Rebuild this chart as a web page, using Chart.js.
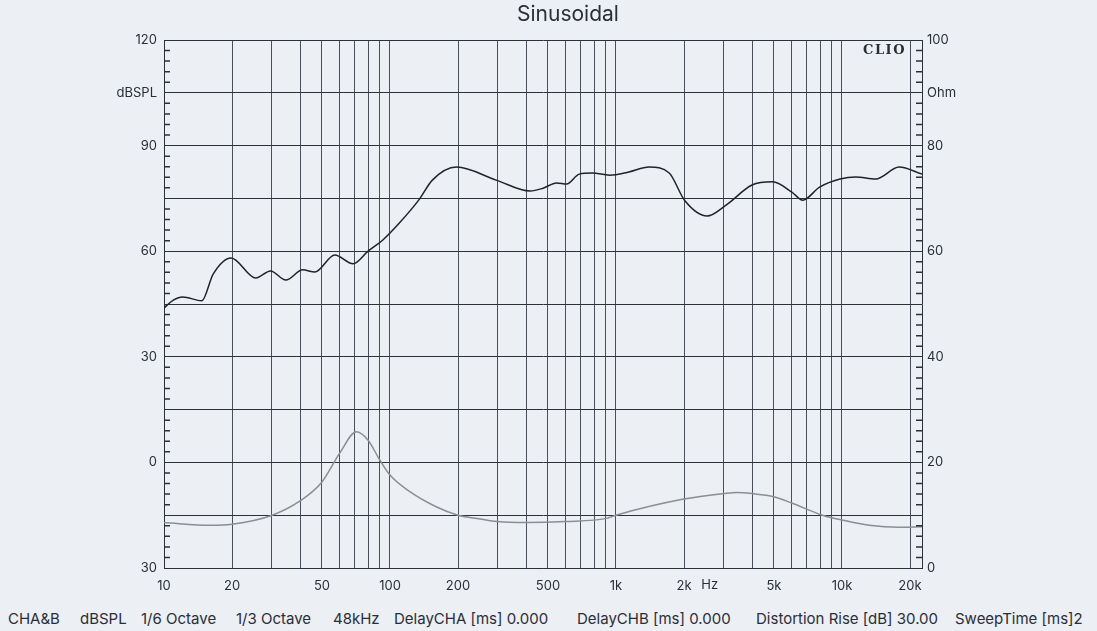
<!DOCTYPE html>
<html>
<head>
<meta charset="utf-8">
<script src="https://cdn.jsdelivr.net/npm/chart.js@4/dist/chart.umd.min.js"></script>
<style>
body { margin:0; background:#eceff4; font-family: Inter, sans-serif; }
#wrap { position:relative; width:1097px; height:631px; overflow:hidden; }
#footer span { position:absolute; top:609px; font-size:15px; color:#2a2e38; white-space:nowrap; }
</style>
</head>
<body>
<div id="wrap">
<canvas id="myChart" width="1097" height="592"></canvas>
<div id="footer"></div>
</div>
<script>
// SPL curve (dB, left axis)
const splFreq = [10, 11, 12.1, 14.7, 16.5, 19.8, 25.5, 29.6, 34.6, 41.1, 46.5, 57, 68.6, 80, 93, 110, 135, 154, 197, 295, 417, 476, 546, 605, 688, 785, 937, 1140, 1400, 1720, 2010, 2530, 3070, 4000, 4930, 6000, 6700, 7960, 9800, 11500, 14100, 17900, 22600]
const splDb = [43.9, 46.1, 47, 45.9, 53.5, 58.1, 52.4, 54.4, 51.8, 54.7, 54.1, 58.9, 56.4, 60, 63.2, 68, 74.8, 80.2, 83.9, 80.2, 77.1, 77.9, 79.4, 79.1, 81.9, 82.2, 81.6, 82.5, 83.9, 82.2, 74.5, 70, 73.1, 78.8, 79.7, 76.8, 74.5, 78.2, 80.5, 81.1, 80.5, 83.9, 81.9]

// impedance curve (Ohm, right axis)
const impFreq = [10, 16, 20, 29.7, 40, 50, 60, 71, 80, 90, 100, 122, 160, 200, 250, 298, 400, 600, 907, 1000, 1970, 3020, 3430, 4000, 5000, 6000, 8200, 10000, 13200, 17800, 22600]
const impOhm = [8.6, 8.1, 8.3, 9.9, 12.7, 16.3, 21.8, 25.8, 24.2, 20.5, 17.6, 14.5, 11.6, 10.0, 9.3, 8.8, 8.6, 8.8, 9.4, 10.0, 13.0, 14.1, 14.3, 14.1, 13.5, 12.3, 10.0, 9.1, 8.1, 7.7, 7.8]

// axes
const xTicks = [10, 20, 30, 40, 50, 60, 70, 80, 90, 100, 200, 300, 400, 500, 600, 700, 800, 900, 1000, 2000, 3000, 4000, 5000, 6000, 7000, 8000, 9000, 10000, 20000]
const xLabels = ['10', '20', '', '', '50', '', '', '', '', '100', '200', '', '', '500', '', '', '', '', '1k', '2k', '', '', '5k', '', '', '', '', '10k', '20k']
const leftTicks = [-30, -15, 0, 15, 30, 45, 60, 75, 90, 105, 120]
const leftLabels = ['30', '', '0', '', '30', '', '60', '', '90', 'dBSPL', '120']
const rightTicks = [0, 10, 20, 30, 40, 50, 60, 70, 80, 90, 100]
const rightLabels = ['0', '', '20', '', '40', '', '60', '', '80', 'Ohm', '100']

const footerLabels = ['CHA&B', 'dBSPL', '1/6 Octave', '1/3 Octave', '48kHz', 'DelayCHA [ms] 0.000', 'DelayCHB [ms] 0.000', 'Distortion Rise [dB] 30.00', 'SweepTime [ms]2']
const footerX = [8, 80, 141, 236, 333, 394, 577, 756, 955]

const ink = '#2a2e38'
const lineDark = '#2c3139'

const footer = document.getElementById('footer')
footerLabels.forEach((t, i) => {
    const s = document.createElement('span')
    s.textContent = t
    s.style.left = footerX[i] + 'px'
    footer.appendChild(s)
})

const extras = {
    id: 'extras',
    afterDraw(chart) {
        const {ctx, chartArea, scales} = chart
        ctx.save()
        // small inner ticks
        ctx.strokeStyle = lineDark
        ctx.lineWidth = 1.5
        ctx.beginPath()
        for (let v = -30; v <= 120; v += 3) {
            if (v % 15 === 0) continue
            const y = scales.y.getPixelForValue(v)
            ctx.moveTo(chartArea.left, y)
            ctx.lineTo(chartArea.left + 6, y)
        }
        for (let v = 0; v <= 100; v += 2) {
            if (v % 10 === 0) continue
            const y = scales.y2.getPixelForValue(v)
            ctx.moveTo(chartArea.right - 6, y)
            ctx.lineTo(chartArea.right, y)
        }
        ctx.stroke()

        ctx.fillStyle = ink
        ctx.textBaseline = 'middle'
        ctx.textAlign = 'center'
        ctx.font = '13px Inter'
        ctx.fillText('Hz', scales.x.getPixelForValue(2600), chartArea.bottom + 17)

        ctx.font = '21px Inter'
        ctx.fillText('Sinusoidal', 568, 15)

        ctx.textAlign = 'right'
        ctx.font = 'bold 13px "DejaVu Serif"'
        ctx.letterSpacing = '1.5px'
        ctx.fillText('CLIO', chartArea.right - 16, chartArea.top + 11)
        ctx.restore()
    }
}

function drawChart() {
    const ctx = document.getElementById('myChart')

    const data = {
        datasets: [
            {
                label: 'SPL',
                data: splFreq.map((f, i) => ({x: f, y: splDb[i]})),
                borderColor: '#1f232b',
                borderWidth: 1.5,
                pointRadius: 0,
                cubicInterpolationMode: 'monotone',
                yAxisID: 'y'
            },
            {
                label: 'Impedance',
                data: impFreq.map((f, i) => ({x: f, y: impOhm[i]})),
                borderColor: '#8b8e93',
                borderWidth: 1.5,
                pointRadius: 0,
                cubicInterpolationMode: 'monotone',
                yAxisID: 'y2'
            }
        ]
    }

    const config = {
        type: 'line',
        data: data,
        options: {
            responsive: false,
            animation: false,
            layout: {padding: {top: 40, left: 0, right: 0, bottom: 0}},
            plugins: {legend: {display: false}, tooltip: {enabled: false}, title: {display: false}},
            scales: {
                x: {
                    type: 'logarithmic',
                    min: 10,
                    max: 22600,
                    afterBuildTicks: s => { s.ticks = xTicks.map(v => ({value: v})) },
                    afterFit: s => { s.height = 24 },
                    grid: {color: '#4a5059', lineWidth: 1, drawTicks: false},
                    border: {display: true, color: lineDark, width: 1},
                    ticks: {
                        autoSkip: false, maxRotation: 0, padding: 10,
                        color: ink, font: {family: 'Inter', size: 13},
                        callback: (v, i) => xLabels[i]
                    }
                },
                y: {
                    position: 'left',
                    min: -30,
                    max: 120,
                    afterBuildTicks: s => { s.ticks = leftTicks.map(v => ({value: v})) },
                    afterFit: s => { s.width = 164 },
                    grid: {color: lineDark, lineWidth: 1, drawTicks: false},
                    border: {display: true, color: lineDark, width: 1},
                    ticks: {
                        padding: 7, color: ink, font: {family: 'Inter', size: 13},
                        callback: (v, i) => leftLabels[i]
                    }
                },
                y2: {
                    position: 'right',
                    min: 0,
                    max: 100,
                    afterBuildTicks: s => { s.ticks = rightTicks.map(v => ({value: v})) },
                    afterFit: s => { s.width = 175 },
                    grid: {display: false, drawTicks: false},
                    border: {display: true, color: lineDark, width: 1},
                    ticks: {
                        padding: 5, color: ink, font: {family: 'Inter', size: 13},
                        callback: (v, i) => rightLabels[i]
                    }
                }
            }
        },
        plugins: [extras]
    }

    new Chart(ctx, config)
}

document.addEventListener('DOMContentLoaded', drawChart)
</script>
</body>
</html>
